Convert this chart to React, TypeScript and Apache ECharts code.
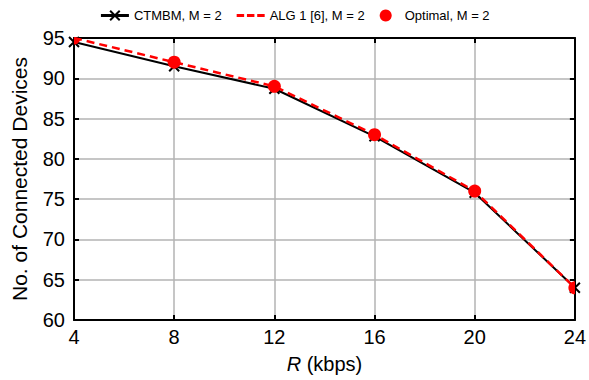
import React, { useEffect, useRef } from "react";
import * as echarts from "echarts";

const rates = [4, 8, 12, 16, 20, 24];
const ctmbm = [94.5, 91.5, 88.7, 82.8, 75.8, 64];
const alg1 = [95, 92, 89, 83, 76, 64];
const optimal = [95, 92, 89, 83, 76, 64];

const FONT = "Liberation Sans, Arial, Helvetica, sans-serif";

export default function App() {
  const ref = useRef<HTMLDivElement>(null);
  useEffect(() => {
    if (!ref.current) return;
    const chart = echarts.init(ref.current, undefined, { renderer: "svg" });
    const pair = (ys: number[]) => rates.map((x, i) => [x, ys[i]]);
    const frame = { show: true, onZero: false, lineStyle: { color: "#000", width: 2 } };
    const tick = { show: true, inside: true, length: 5, lineStyle: { color: "#000", width: 2 } };
    chart.setOption({
      animation: false,
      textStyle: { fontFamily: FONT },
      legend: {
        top: 4,
        left: "center",
        itemWidth: 28,
        itemHeight: 12,
        itemGap: 15,
        textStyle: { fontSize: 13, color: "#000", fontFamily: FONT },
        data: [
          { name: "CTMBM, M = 2", lineStyle: { width: 3 } },
          { name: "ALG 1 [6], M = 2", icon: "path://M0,0h8v3h-8zM11,0h8v3h-8zM22,0h8v3h-8z" },
          { name: "Optimal, M = 2", icon: "circle" },
        ],
      },
      grid: { left: 74, right: 13, top: 38, bottom: 60 },
      xAxis: [
        {
          type: "value",
          min: 4,
          max: 24,
          interval: 4,
          axisLine: frame,
          axisTick: tick,
          axisLabel: { fontSize: 20, color: "#000", margin: 7, fontFamily: FONT },
          splitLine: { show: true, lineStyle: { color: "#b3b3b3", width: 1.5 } },
          name: "{i|R} (kbps)",
          nameLocation: "middle",
          nameGap: 34,
          nameTextStyle: {
            fontSize: 20,
            color: "#000",
            fontFamily: FONT,
            rich: { i: { fontStyle: "italic", fontSize: 20, color: "#000", fontFamily: FONT } },
          },
        },
        {
          type: "value",
          position: "top",
          min: 4,
          max: 24,
          interval: 4,
          axisLine: frame,
          axisTick: tick,
          axisLabel: { show: false },
          splitLine: { show: false },
        },
      ],
      yAxis: [
        {
          type: "value",
          min: 60,
          max: 95,
          interval: 5,
          axisLine: frame,
          axisTick: tick,
          axisLabel: { fontSize: 20, color: "#000", margin: 9, fontFamily: FONT },
          splitLine: { show: true, lineStyle: { color: "#b3b3b3", width: 1.5 } },
          name: "No. of Connected Devices",
          nameLocation: "middle",
          nameGap: 44,
          nameTextStyle: { fontSize: 21, color: "#000", fontFamily: FONT },
        },
        {
          type: "value",
          position: "right",
          min: 60,
          max: 95,
          interval: 5,
          axisLine: frame,
          axisTick: tick,
          axisLabel: { show: false },
          splitLine: { show: false },
        },
      ],
      series: [
        {
          name: "CTMBM, M = 2",
          type: "line",
          data: pair(ctmbm),
          symbol: "path://M0,0L10,10M10,0L0,10",
          symbolSize: 10,
          itemStyle: { color: "#000", borderColor: "#000", borderWidth: 2 },
          lineStyle: { color: "#000", width: 2 },
          z: 2,
        },
        {
          name: "ALG 1 [6], M = 2",
          type: "line",
          data: pair(alg1),
          showSymbol: false,
          symbol: "none",
          itemStyle: { color: "#ff0000" },
          lineStyle: { color: "#ff0000", width: 2.5, type: [8, 5] },
          z: 3,
        },
        {
          name: "Optimal, M = 2",
          type: "custom",
          data: pair(optimal),
          clip: true,
          itemStyle: { color: "#ff0000" },
          encode: { x: 0, y: 1 },
          renderItem: (params: any, api: any) => {
            const p = api.coord([api.value(0), api.value(1)]);
            return {
              type: "circle",
              shape: { cx: p[0], cy: p[1], r: 6.5 },
              style: { fill: "#ff0000" },
            };
          },
          z: 4,
        },
      ],
    });
    return () => chart.dispose();
  }, []);
  return <div ref={ref} style={{ width: 589, height: 380, position: "absolute", left: 0, top: 0 }} />;
}
